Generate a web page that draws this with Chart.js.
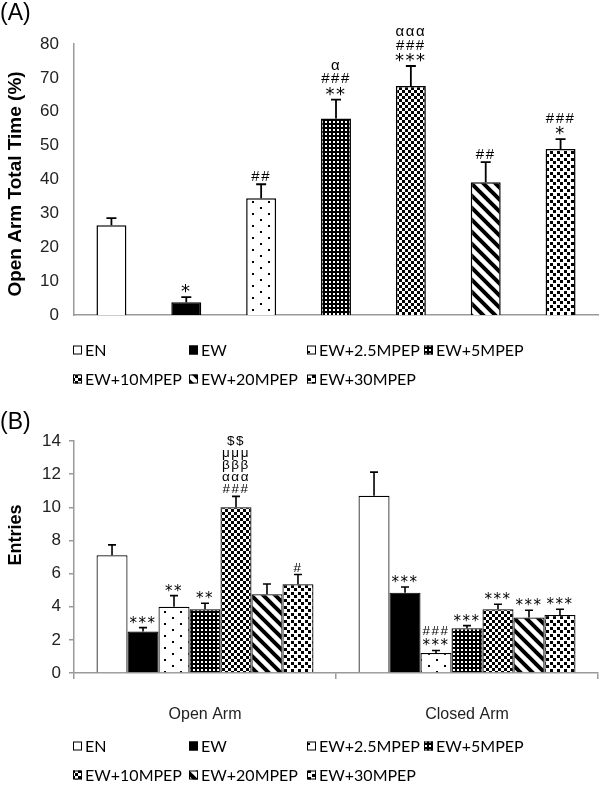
<!DOCTYPE html>
<html><head><meta charset="utf-8">
<script src="https://cdn.jsdelivr.net/npm/chart.js@4.4.1/dist/chart.umd.min.js"></script>
<style>
html,body{margin:0;padding:0;background:#fff;width:600px;height:785px;overflow:hidden}
canvas{position:absolute;left:0}
#ca{top:0}
#cb{top:392px}
</style></head><body>
<canvas id="ca" width="600" height="392"></canvas>
<canvas id="cb" width="600" height="393"></canvas>
<script>
// ---------- data ----------
const groups = ['EN','EW','EW+2.5MPEP','EW+5MPEP','EW+10MPEP','EW+20MPEP','EW+30MPEP'];

// Panel A: open arm total time (%)
const timeA    = [26.5, 3.8, 34.5, 58.0, 67.6, 39.2, 49.0];
const timeErrA = [2.1, 1.5, 4.1, 5.6, 5.9, 5.9, 2.9];
const sigA     = [[], ['*'], ['##'], ['**','###','α'], ['***','###','ααα'], ['##'], ['*','###']];
const ticksA   = [0,10,20,30,40,50,60,70,80];

// Panel B: entries
const armsB  = ['Open Arm','Closed Arm'];
const entEN  = [7.1, 10.7];
const entEW  = [2.5, 4.85];
const ent25  = [4.0, 1.2];
const ent5   = [3.85, 2.7];
const ent10  = [10.0, 3.85];
const ent20  = [4.75, 3.35];
const ent30  = [5.35, 3.5];
const errEN  = [0.63, 1.42];
const errEW  = [0.24, 0.34];
const err25  = [0.67, 0.16];
const err5   = [0.36, 0.16];
const err10  = [0.66, 0.30];
const err20  = [0.62, 0.44];
const err30  = [0.59, 0.35];
const sigEN  = [[], []];
const sigEW  = [['***'], ['***']];
const sig25  = [['**'], ['***','###']];
const sig5   = [['**'], ['***']];
const sig10  = [['###','ααα','βββ','μμμ','$$'], ['***']];
const sig20  = [[], ['***']];
const sig30  = [['#'], ['***']];
const ticksB = [0,2,4,6,8,10,12,14];

// ---------- patterns ----------
function makePattern(w, h, draw) {
  const c = document.createElement('canvas');
  c.width = w; c.height = h;
  const g = c.getContext('2d');
  g.fillStyle = '#fff'; g.fillRect(0, 0, w, h);
  g.fillStyle = '#000'; g.strokeStyle = '#000';
  draw(g, w, h);
  return g.createPattern(c, 'repeat');
}
const fills = [
  '#ffffff',
  '#000000',
  makePattern(16, 12, g => { g.fillRect(4, 3, 2, 2); g.fillRect(12, 9, 2, 2); }),
  makePattern(4, 4, g => { g.fillRect(0, 0, 4, 4); g.fillStyle = '#fff'; g.fillRect(1, 1, 2, 2); }),
  makePattern(6, 6, g => { g.fillRect(0, 0, 3, 3); g.fillRect(3, 3, 3, 3); }),
  makePattern(12, 12, g => {
    g.lineWidth = 4;
    g.beginPath();
    for (let k = -2; k <= 2; k++) { g.moveTo(k * 12 - 2, -2); g.lineTo(k * 12 + 14, 14); }
    g.stroke();
  }),
  makePattern(7, 7, g => { g.fillRect(0, 0, 3, 3); g.fillRect(4, 4, 3, 3); })
];

// ---------- plugins ----------
const errorBars = {
  id: 'errorBars',
  afterDatasetsDraw(chart, args, o) {
    const ctx = chart.ctx, ys = chart.scales.y;
    chart.data.datasets.forEach((ds, di) => {
      const meta = chart.getDatasetMeta(di);
      meta.data.forEach((el, i) => {
        const v = ds.data[i], e = ds.errors[i];
        const yt = ys.getPixelForValue(v + e);
        ctx.save();
        ctx.strokeStyle = '#000'; ctx.lineWidth = o.width;
        ctx.beginPath();
        ctx.moveTo(el.x, el.y); ctx.lineTo(el.x, yt);
        ctx.moveTo(el.x - o.cap, yt); ctx.lineTo(el.x + o.cap, yt);
        ctx.stroke();
        ctx.fillStyle = '#000';
        ctx.textAlign = 'center';
        ctx.textBaseline = 'alphabetic';
        if ('letterSpacing' in ctx) ctx.letterSpacing = '1.5px';
        (ds.sig[i] || []).forEach((t, k) => {
          const star = t.indexOf('*') >= 0;
          ctx.font = star ? o.starFont : o.font;
          ctx.fillText(t, el.x, yt - o.gap - (star ? -3 : 0) - k * o.step);
        });
        ctx.restore();
      });
    });
  }
};

const decor = {
  id: 'decor',
  afterDraw(chart, args, o) {
    const ctx = chart.ctx;
    ctx.save();
    ctx.fillStyle = '#000';
    ctx.font = '23px "Liberation Sans", Arial, sans-serif';
    ctx.textAlign = 'left'; ctx.textBaseline = 'alphabetic';
    ctx.fillText(o.panel, 0, o.panelY);
    ctx.save();
    ctx.translate(o.titleX, o.titleY);
    ctx.rotate(-Math.PI / 2);
    ctx.font = o.titleFont;
    ctx.textAlign = 'center'; ctx.textBaseline = 'middle';
    ctx.fillText(o.title, 0, 0);
    ctx.restore();
    ctx.font = '16px Lato, "Open Sans", sans-serif';
    ctx.textBaseline = 'middle'; ctx.textAlign = 'left';
    o.items.forEach((it, i) => {
      const r = Math.floor(i / 4), c = i % 4;
      const x = o.cols[c], y = o.rows[r];
      ctx.fillStyle = it.fill;
      ctx.fillRect(x, y - 4.5, 9, 9);
      ctx.strokeStyle = '#000'; ctx.lineWidth = 1;
      ctx.strokeRect(x + 0.5, y - 4, 8, 8);
      ctx.fillStyle = '#000';
      ctx.fillText(it.text, x + 12, y + 1);
    });
    ctx.restore();
  }
};

Chart.defaults.font.family = '"Liberation Sans", Arial, sans-serif';
Chart.defaults.color = '#222';
const legendItems = groups.map((g, i) => ({ text: g, fill: fills[i] }));
const axisGray = '#9a9a9a';

// ---------- chart A ----------
new Chart(document.getElementById('ca'), {
  type: 'bar',
  data: {
    labels: groups,
    datasets: [{
      label: 'Open Arm Total Time (%)',
      data: timeA, errors: timeErrA, sig: sigA,
      backgroundColor: fills, borderColor: '#000', borderWidth: 1.5,
      barPercentage: 0.4, categoryPercentage: 1
    }]
  },
  options: {
    responsive: false, animation: false,
    layout: { padding: { left: 0, right: 2, top: 44, bottom: 77 } },
    plugins: {
      legend: { display: false }, tooltip: { enabled: false },
      errorBars: { width: 1.8, cap: 5, font: '15px "Liberation Sans", Arial, sans-serif',
                   starFont: '18px "DejaVu Sans", sans-serif', gap: 3, step: 13.5 },
      decor: { panel: '(A)', panelY: 20, title: 'Open Arm Total Time (%)', titleX: 16, titleY: 184,
               titleFont: 'bold 19px "Liberation Sans", Arial, sans-serif',
               items: legendItems, cols: [73, 189, 307, 424], rows: [350, 379] }
    },
    scales: {
      x: {
        ticks: { display: false },
        grid: { display: false, drawTicks: false },
        border: { display: true, color: axisGray, width: 1.5 },
        afterFit(s) { s.height = 0; }
      },
      y: {
        min: ticksA[0], max: ticksA[ticksA.length - 1],
        afterBuildTicks(s) { s.ticks = ticksA.map(v => ({ value: v })); },
        ticks: { font: { size: 17 }, padding: 15, color: '#222' },
        grid: { display: false, drawTicks: false },
        border: { display: true, color: axisGray, width: 1.5 },
        afterFit(s) { s.width = 74; }
      }
    }
  },
  plugins: [errorBars, decor]
});

// ---------- chart B ----------
const seriesB = [entEN, entEW, ent25, ent5, ent10, ent20, ent30];
const errsB   = [errEN, errEW, err25, err5, err10, err20, err30];
const sigsB   = [sigEN, sigEW, sig25, sig5, sig10, sig20, sig30];
new Chart(document.getElementById('cb'), {
  type: 'bar',
  data: {
    labels: armsB,
    datasets: groups.map((g, i) => ({
      label: g, data: seriesB[i], errors: errsB[i], sig: sigsB[i],
      backgroundColor: fills[i], borderColor: '#000', borderWidth: 1.2,
      barPercentage: 1, categoryPercentage: 0.828
    }))
  },
  options: {
    responsive: false, animation: false,
    layout: { padding: { left: 0, right: 2, top: 49, bottom: 52 } },
    plugins: {
      legend: { display: false }, tooltip: { enabled: false },
      errorBars: { width: 1.6, cap: 4, font: '13.5px "Liberation Sans", Arial, sans-serif',
                   starFont: '15px "DejaVu Sans", sans-serif', gap: 3, step: 12 },
      decor: { panel: '(B)', panelY: 37, title: 'Entries', titleX: 16, titleY: 143,
               titleFont: 'bold 18px "Liberation Sans", Arial, sans-serif',
               items: legendItems, cols: [73, 189, 307, 424], rows: [354, 383] }
    },
    scales: {
      x: {
        ticks: { font: { size: 16 }, padding: 26, color: '#222' },
        grid: { display: true, drawOnChartArea: false, drawTicks: true, tickLength: 6, offset: true, color: axisGray, lineWidth: 1.5 },
        border: { display: true, color: axisGray, width: 1.5 },
        afterFit(s) { s.height = 60; }
      },
      y: {
        min: ticksB[0], max: ticksB[ticksB.length - 1],
        afterBuildTicks(s) { s.ticks = ticksB.map(v => ({ value: v })); },
        ticks: { font: { size: 17 }, padding: 8, color: '#222' },
        grid: { display: true, drawOnChartArea: false, drawTicks: true, tickLength: 5, color: axisGray, lineWidth: 1.5 },
        border: { display: true, color: axisGray, width: 1.5 },
        afterFit(s) { s.width = 74; }
      }
    }
  },
  plugins: [errorBars, decor]
});
</script>
</body></html>
